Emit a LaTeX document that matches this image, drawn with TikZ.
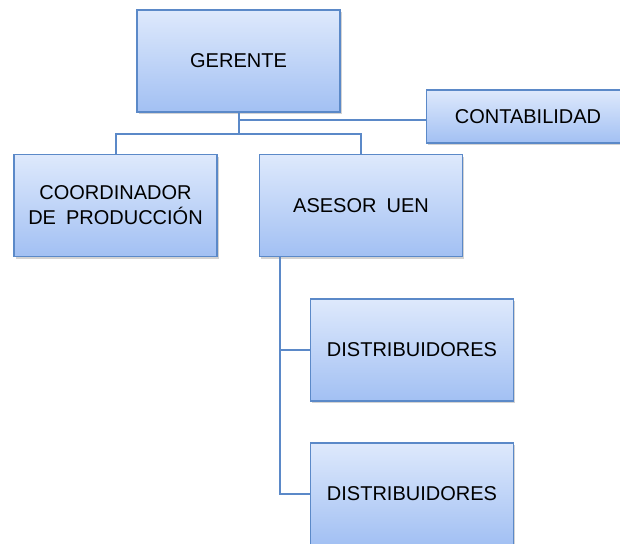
\documentclass[tikz,border=0pt]{standalone}
\usepackage{fontspec}
\setmainfont{Liberation Sans}
\usetikzlibrary{shadows}
\definecolor{boxline}{HTML}{5B89C8}
\definecolor{boxtop}{HTML}{DEE9FC}
\definecolor{boxbottom}{HTML}{A2C0F3}
\tikzset{
  cargo/.style={draw=boxline, line width=1.2pt, top color=boxtop, bottom color=boxbottom,
    minimum width=203pt, minimum height=102pt, align=center, inner sep=2pt,
    font=\fontsize{20}{25}\selectfont,
    drop shadow={shadow xshift=1.5pt, shadow yshift=-2pt, opacity=0.35}},
  rama/.style={draw=boxline, line width=2pt}
}
\begin{document}
\begin{tikzpicture}[x=1pt,y=-1pt]
      \useasboundingbox (0,0) rectangle (620,543);
      \path
        (238.5,61) node[cargo] (gerente){GERENTE}
        (528,116.5) node[cargo, minimum height=53pt] (conta){CONTABILIDAD}
        (115.5,205.5) node[cargo] (coord){COORDINADOR\\DE\enspace PRODUCCIÓN}
        (361,205.5) node[cargo] (asesor){ASESOR\enspace UEN}
        (412,350) node[cargo] (dist1){DISTRIBUIDORES}
        (412,494) node[cargo] (dist2){DISTRIBUIDORES};
      \coordinate (t0) at (238.5,120);
      \coordinate (t1) at (238.5,134);
      \coordinate (t2) at (280,494);
      \begin{scope}[rama]
        \draw (gerente.south) -- (t1);
        \draw (t0) -- (t0 -| conta.west);
        \draw (coord.north) |- (t1) -| (asesor.north);
        \draw (asesor.south -| t2) -- (t2) -- (dist2.west);
        \draw (t2 |- dist1.west) -- (dist1.west);
      \end{scope}
    \end{tikzpicture}
\end{document}
